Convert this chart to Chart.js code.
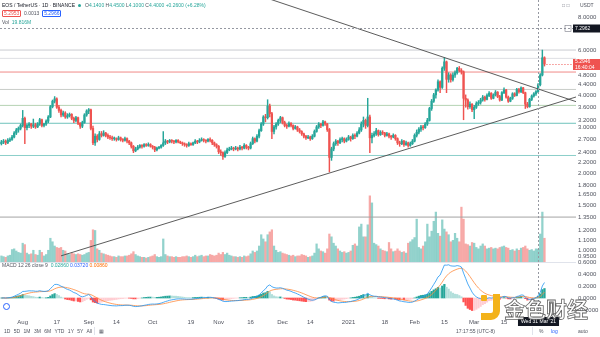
<!DOCTYPE html>
<html>
<head>
<meta charset="utf-8">
<title>EOS / TetherUS · 1D · BINANCE</title>
<script src="https://cdn.jsdelivr.net/npm/chart.js@4.4.0/dist/chart.umd.min.js"></script>
<style>
  html, body { margin: 0; padding: 0; background: #fff; }
  body { position: relative; width: 600px; height: 337px; overflow: hidden;
         font-family: "Liberation Sans", Arial, sans-serif; color: #131722; }
  canvas { position: absolute; left: 0; }
  #priceChart { top: 0; }
  #macdChart { top: 256px; }
  .txt { position: absolute; white-space: nowrap; font-size: 5px; line-height: 6px; }
  .box { display: inline-block; padding: 0 1px; border: 0.6px solid; border-radius: 1px; line-height: 5px; }
  .dot { display: inline-block; width: 3px; height: 3px; border-radius: 50%; background: #26a69a; margin: 0 4px 0 3px; }
  .sep { position: absolute; left: 0; top: 262px; width: 576px; height: 1px; background: #e0e3eb; }
  .tool { color: #50535e; }
  .mark { position: absolute; font-family: "Noto Sans CJK SC", sans-serif; font-weight: 700;
          font-size: 21px; line-height: 24px; color: rgba(255,255,255,0.85);
          -webkit-text-stroke: 0.8px rgba(70,70,70,0.85); letter-spacing: 0px; }
</style>
</head>
<body>
<canvas id="priceChart" width="600" height="263"></canvas>
<canvas id="macdChart" width="600" height="72"></canvas>
<div class="sep"></div>

<div class="txt" style="left:2px;top:2px">EOS / TetherUS · 1D · BINANCE<span class="dot"></span><span id="ohlc"></span></div>
<div class="txt" style="left:2px;top:10px">
  <span class="box" style="color:#ef5350;border-color:#ef5350">5.2953</span>
  <span style="color:#50535e">&nbsp;0.0013&nbsp;</span>
  <span class="box" style="color:#2962ff;border-color:#2962ff">5.2966</span>
</div>
<div class="txt" style="left:2px;top:19px"><span style="color:#50535e">Vol</span>&nbsp;&nbsp;<span id="volText" style="color:#26a69a"></span></div>
<div class="txt" style="left:2px;top:262px"><span style="color:#50535e">MACD 12 26 close 9</span>&nbsp;&nbsp;<span id="macdText"></span></div>

<div class="txt" style="left:562px;top:2px;color:#787b86">&#9633; &#9633;</div>
<div class="txt" style="left:580px;top:2px;color:#50535e">USDT</div>

<div style="position:absolute;left:3px;top:303px;width:7px;height:7px;border-radius:50%;border:1px solid #2962ff;box-sizing:border-box"></div>

<div class="txt tool" style="left:4px;top:328px;word-spacing:2px">1D 5D 1M 3M 6M YTD 1Y 5Y All</div>
<div style="position:absolute;left:94px;top:327px;width:1px;height:8px;background:#e0e3eb"></div>
<div class="txt tool" style="left:99px;top:328px">&#9638;</div>
<div class="txt tool" style="left:456px;top:328px">17:17:55 (UTC-8)</div>
<div style="position:absolute;left:532px;top:327px;width:1px;height:8px;background:#e0e3eb"></div>
<div class="txt tool" style="left:539px;top:328px">%</div>
<div class="txt" style="left:551px;top:328px;color:#2962ff">log</div>
<div class="txt tool" style="left:578px;top:328px">auto</div>

<svg style="position:absolute;left:481px;top:294px" width="20" height="27" viewBox="0 0 20 27">
  <rect x="0" y="1" width="6" height="6" rx="1" fill="#f3b21a"/>
  <path d="M12 0 h7 v17 a9 9 0 0 1 -9 9 h-10 v-7 h10 a2 2 0 0 0 2 -2 z" fill="#f3b21a"/>
</svg>
<div class="mark" style="left:504px;top:296px">金色财经</div>

<script>
// Daily EOS/USDT candles, Jul 22 2020 .. Apr 4 2021. Day numbers count from Aug 1 2020.
const FIRST_DAY = -10;

const opens = [
  2.60,2.64,2.66,2.62,2.68,2.70,2.76,2.86,2.94,2.98,
  3.06,3.26,3.00,3.06,3.10,3.04,3.08,3.02,3.10,3.22,
  3.06,3.10,3.18,3.30,3.62,3.80,3.88,3.60,3.50,3.36,
  3.42,3.30,3.34,3.38,3.26,3.20,3.28,3.12,3.04,3.14,
  3.36,3.48,3.52,2.98,2.62,2.78,2.70,2.84,2.80,2.86,
  2.80,2.76,2.74,2.72,2.72,2.70,2.74,2.70,2.68,2.72,
  2.66,2.62,2.54,2.44,2.48,2.52,2.56,2.54,2.58,2.56,
  2.58,2.54,2.52,2.46,2.50,2.52,2.56,2.62,2.66,2.64,
  2.68,2.66,2.64,2.68,2.64,2.62,2.60,2.58,2.56,2.60,
  2.58,2.62,2.66,2.64,2.68,2.70,2.68,2.66,2.70,2.68,
  2.62,2.58,2.54,2.42,2.40,2.32,2.40,2.46,2.48,2.50,
  2.48,2.50,2.48,2.52,2.50,2.56,2.52,2.50,2.60,2.72,
  2.66,2.78,2.92,3.10,3.30,3.28,3.64,3.40,2.90,3.02,
  3.10,3.20,3.28,3.14,3.06,3.04,3.12,3.06,2.98,3.02,
  2.94,2.90,2.84,2.78,2.74,2.76,2.72,2.78,2.90,3.02,
  3.10,3.06,3.16,3.10,2.95,2.30,2.48,2.60,2.66,2.62,
  2.70,2.72,2.66,2.70,2.76,2.72,2.80,2.78,2.86,2.94,
  3.10,3.20,3.06,3.30,2.74,2.80,2.84,2.92,2.82,2.88,
  2.86,2.80,2.84,2.78,2.76,2.80,2.72,2.62,2.60,2.66,
  2.58,2.62,2.56,2.60,2.66,2.80,2.88,2.96,3.02,3.00,
  3.10,3.20,3.56,3.80,4.02,4.20,4.52,4.30,5.10,5.40,
  4.62,4.80,4.60,4.80,4.90,5.10,5.00,4.94,3.90,3.84,
  3.62,3.70,3.52,3.60,3.72,3.76,3.84,3.94,3.86,4.00,
  4.08,3.90,4.02,4.12,3.96,3.84,4.10,4.20,3.94,3.80,
  3.90,4.06,4.00,4.22,4.14,4.28,4.10,3.70,3.62,3.86,
  3.98,4.06,4.14,4.40,4.80,5.60
];
const highs = [
  2.68,2.70,2.69,2.72,2.74,2.80,2.90,2.98,3.02,3.10,
  3.50,3.30,3.10,3.14,3.12,3.24,3.12,3.14,3.26,3.24,
  3.12,3.22,3.34,3.66,3.84,3.96,3.92,3.66,3.54,3.48,
  3.46,3.40,3.42,3.40,3.30,3.32,3.30,3.14,3.18,3.40,
  3.52,3.56,3.54,3.04,2.84,2.82,2.90,2.90,2.92,2.88,
  2.84,2.80,2.78,2.76,2.74,2.78,2.76,2.72,2.76,2.74,
  2.68,2.64,2.56,2.52,2.56,2.58,2.58,2.60,2.60,2.62,
  2.60,2.56,2.54,2.52,2.54,2.58,2.90,2.70,2.68,2.70,
  2.70,2.68,2.70,2.70,2.66,2.64,2.62,2.60,2.64,2.62,
  2.64,2.70,2.68,2.72,2.74,2.72,2.70,2.72,2.74,2.70,
  2.64,2.60,2.56,2.46,2.42,2.44,2.50,2.52,2.54,2.52,
  2.54,2.52,2.56,2.54,2.60,2.58,2.54,2.64,2.76,2.74,
  2.82,2.96,3.14,3.34,3.38,3.85,3.70,3.44,3.06,3.14,
  3.24,3.32,3.30,3.18,3.10,3.16,3.14,3.08,3.06,3.04,
  2.98,2.92,2.86,2.80,2.80,2.78,2.82,2.94,3.06,3.14,
  3.12,3.20,3.18,3.12,2.98,2.52,2.64,2.70,2.68,2.74,
  2.76,2.74,2.74,2.80,2.78,2.84,2.84,2.90,3.00,3.16,
  3.30,3.24,3.90,3.36,2.86,2.90,2.98,2.94,2.92,2.92,
  2.88,2.88,2.86,2.80,2.84,2.82,2.74,2.66,2.70,2.68,
  2.66,2.64,2.64,2.70,2.84,2.94,3.00,3.06,3.06,3.14,
  3.26,3.60,3.86,4.08,4.24,4.60,4.56,5.16,5.60,5.44,
  4.90,4.86,4.90,4.98,5.14,5.18,5.08,4.98,4.02,3.88,
  3.78,3.72,3.66,3.78,3.82,3.90,4.00,3.98,4.06,4.14,
  4.10,4.06,4.18,4.14,4.00,4.14,4.28,4.22,3.98,3.94,
  4.10,4.10,4.26,4.26,4.32,4.30,4.12,3.76,3.90,4.02,
  4.10,4.18,4.45,4.86,6.00,5.65
];
const lows = [
  2.57,2.60,2.58,2.60,2.65,2.68,2.74,2.82,2.88,2.94,
  3.02,2.60,2.94,3.00,2.98,3.00,2.98,3.00,3.06,3.02,
  3.02,3.06,3.14,3.28,3.58,3.74,3.56,3.44,3.30,3.32,
  3.26,3.26,3.30,3.22,3.14,3.16,3.08,2.98,3.00,3.12,
  3.32,3.40,2.94,2.58,2.56,2.64,2.68,2.76,2.78,2.76,
  2.72,2.70,2.68,2.68,2.66,2.68,2.66,2.64,2.66,2.62,
  2.58,2.50,2.40,2.42,2.46,2.50,2.50,2.52,2.54,2.54,
  2.52,2.48,2.42,2.44,2.48,2.50,2.54,2.58,2.60,2.62,
  2.62,2.60,2.62,2.62,2.60,2.56,2.54,2.52,2.54,2.56,
  2.56,2.60,2.60,2.62,2.66,2.64,2.62,2.64,2.64,2.58,
  2.54,2.50,2.38,2.34,2.26,2.30,2.38,2.44,2.46,2.44,
  2.46,2.44,2.46,2.46,2.48,2.48,2.46,2.48,2.58,2.62,
  2.64,2.74,2.90,3.06,3.16,3.24,3.30,2.72,2.84,2.96,
  3.06,3.14,3.10,3.02,2.98,3.02,3.02,2.94,2.96,2.90,
  2.86,2.80,2.74,2.70,2.72,2.68,2.70,2.76,2.88,2.98,
  3.00,3.04,3.06,2.90,2.02,2.24,2.44,2.56,2.56,2.60,
  2.64,2.62,2.64,2.68,2.66,2.70,2.72,2.76,2.84,2.90,
  3.02,2.98,3.02,2.40,2.62,2.76,2.80,2.78,2.80,2.82,
  2.76,2.78,2.74,2.70,2.74,2.68,2.58,2.54,2.58,2.54,
  2.56,2.52,2.54,2.58,2.64,2.76,2.84,2.90,2.94,2.98,
  3.06,3.18,3.50,3.76,3.90,4.16,4.10,4.26,5.00,4.10,
  4.50,4.50,4.54,4.70,4.84,4.94,4.84,3.22,3.60,3.54,
  3.56,3.46,3.25,3.56,3.66,3.70,3.80,3.80,3.84,3.96,
  3.86,3.88,3.98,3.92,3.80,3.82,4.06,3.90,3.76,3.78,
  3.86,3.96,3.98,4.08,4.10,4.06,3.56,3.58,3.60,3.82,
  3.94,4.00,4.10,4.36,4.76,5.20
];
const closes = [
  2.64,2.66,2.62,2.68,2.70,2.76,2.86,2.94,2.98,3.06,
  3.26,3.00,3.06,3.10,3.04,3.08,3.02,3.10,3.22,3.06,
  3.10,3.18,3.30,3.62,3.80,3.88,3.60,3.50,3.36,3.42,
  3.30,3.34,3.38,3.26,3.20,3.28,3.12,3.04,3.14,3.36,
  3.48,3.52,2.98,2.62,2.78,2.70,2.84,2.80,2.86,2.80,
  2.76,2.74,2.72,2.72,2.70,2.74,2.70,2.68,2.72,2.66,
  2.62,2.54,2.44,2.48,2.52,2.56,2.54,2.58,2.56,2.58,
  2.54,2.52,2.46,2.50,2.52,2.56,2.62,2.66,2.64,2.68,
  2.66,2.64,2.68,2.64,2.62,2.60,2.58,2.56,2.60,2.58,
  2.62,2.66,2.64,2.68,2.70,2.68,2.66,2.70,2.68,2.62,
  2.58,2.54,2.42,2.40,2.32,2.40,2.46,2.48,2.50,2.48,
  2.50,2.48,2.52,2.50,2.56,2.52,2.50,2.60,2.72,2.66,
  2.78,2.92,3.10,3.30,3.28,3.64,3.40,2.90,3.02,3.10,
  3.20,3.28,3.14,3.06,3.04,3.12,3.06,2.98,3.02,2.94,
  2.90,2.84,2.78,2.74,2.76,2.72,2.78,2.90,3.02,3.10,
  3.06,3.16,3.10,2.95,2.30,2.48,2.60,2.66,2.62,2.70,
  2.72,2.66,2.70,2.76,2.72,2.80,2.78,2.86,2.94,3.10,
  3.20,3.06,3.30,2.74,2.80,2.84,2.92,2.82,2.88,2.86,
  2.80,2.84,2.78,2.76,2.80,2.72,2.62,2.60,2.66,2.58,
  2.62,2.56,2.60,2.66,2.80,2.88,2.96,3.02,3.00,3.10,
  3.20,3.56,3.80,4.02,4.20,4.52,4.30,5.10,5.40,4.62,
  4.80,4.60,4.80,4.90,5.10,5.00,4.94,3.90,3.84,3.62,
  3.70,3.52,3.60,3.72,3.76,3.84,3.94,3.86,4.00,4.08,
  3.90,4.02,4.12,3.96,3.84,4.10,4.20,3.94,3.80,3.90,
  4.06,4.00,4.22,4.14,4.28,4.10,3.70,3.62,3.86,3.98,
  4.06,4.14,4.40,4.80,5.60,5.2946
];
// volume in millions of EOS
const volumes = [
  10,9,8,10,11,19,20,17,15,14,
  28,26,14,12,13,18,12,11,18,15,
  10,12,18,35,30,24,22,21,22,18,
  17,13,12,14,13,12,13,12,11,12,
  14,15,32,47,46,20,18,14,13,12,
  11,10,9,9,8,10,9,9,10,10,
  11,13,16,12,10,9,8,8,7,8,
  9,10,12,9,8,9,34,12,10,9,
  9,8,9,8,8,9,9,10,9,8,
  9,11,9,10,11,9,10,10,12,11,
  10,11,14,12,15,12,14,11,10,9,
  9,8,9,8,10,9,10,13,17,15,
  17,24,40,34,30,40,44,47,24,18,
  15,16,14,13,12,11,10,11,9,10,
  10,12,11,10,8,9,10,14,27,20,
  17,16,14,20,41,37,28,24,20,17,
  15,16,14,15,17,25,27,24,51,55,
  37,37,54,95,85,28,26,24,20,18,
  17,16,29,20,16,17,20,17,15,16,
  14,28,30,33,36,62,22,20,24,30,
  55,37,45,59,72,42,38,61,48,44,
  40,30,32,42,35,30,79,62,27,26,
  24,29,28,22,20,24,27,24,20,21,
  22,20,21,20,22,23,24,22,21,18,
  19,17,20,18,21,22,24,20,18,19,
  17,20,19.816,41,72,35
];

// drawn horizontal levels and the two triangle trend lines (day, price)
const levelPrices = [6.0, 5.57, 4.93, 4.22, 3.66, 3.12, 2.34, 1.35];
const fallTrendDays = [114, 260];
const fallTrendPrices = [9.58, 3.78];
const riseTrendDays = [18, 260];
const riseTrendPrices = [0.955, 3.95];

// axis ticks
const priceTicks = [8, 6, 4.8, 4.4, 4, 3.6, 3.2, 3, 2.7, 2.4, 2.2, 2, 1.8, 1.65, 1.5, 1.35, 1.2, 1.1, 1, 0.95];
const macdTicks = [0.6, 0.4, 0.2, 0, -0.2];
const tickDays = [0, 16, 31, 44, 61, 79, 92, 107, 122, 135, 153, 170, 184, 198, 212, 226];
const tickLabels = ['Aug', '17', 'Sep', '14', 'Oct', '19', 'Nov', '16', 'Dec', '14', '2021', '18', 'Feb', '15', 'Mar', '15'];

// crosshair position
const CROSS_DAY = 242;
const CROSS_PRICE = 7.2962;

// visible window
const X_MIN = -10.66, X_MAX = 259.8;
const P_MIN = 0.896, P_MAX = 9.38;

const UP = '#26a69a', DOWN = '#ef5350';
const levelColors = ['#c9cbd0', '#dedfe3', '#f08a87', '#c8cdc8', '#b5d3b3', '#6fc2bb', '#8ccfca', '#a3a3a3'];

Chart.defaults.font.family = '"Liberation Sans", Arial, sans-serif';
Chart.defaults.font.size = 6;
Chart.defaults.color = '#50535e';

const days = closes.map((_, i) => FIRST_DAY + i);
const lastIdx = closes.length - 1;
const crossIdx = CROSS_DAY - FIRST_DAY;
const up = closes.map((c, i) => c >= opens[i]);

// MACD 12 26 9 on closes
function ema(src, n) {
  const k = 2 / (n + 1);
  let prev;
  return src.map((v, i) => (prev = i === 0 ? v : v * k + prev * (1 - k)));
}
const fastEma = ema(closes, 12);
const slowEma = ema(closes, 26);
const macdLine = fastEma.map((v, i) => v - slowEma[i]);
const signalLine = ema(macdLine, 9);
const histogram = macdLine.map((v, i) => v - signalLine[i]);
const histColors = histogram.map((h, i) => {
  const prev = i ? histogram[i - 1] : h;
  if (h >= 0) return h >= prev ? '#26a69a' : '#b2dfdb';
  return h < prev ? '#ff5252' : '#ffcdd2';
});

// legend texts
const f4 = v => v.toFixed(4);
const chg = closes[crossIdx] - closes[crossIdx - 1];
const ohlcColor = up[crossIdx] ? UP : DOWN;
document.getElementById('ohlc').innerHTML =
  `<span style="color:#50535e">O</span><span style="color:${ohlcColor}">${f4(opens[crossIdx])}</span> ` +
  `<span style="color:#50535e">H</span><span style="color:${ohlcColor}">${f4(highs[crossIdx])}</span> ` +
  `<span style="color:#50535e">L</span><span style="color:${ohlcColor}">${f4(lows[crossIdx])}</span> ` +
  `<span style="color:#50535e">C</span><span style="color:${ohlcColor}">${f4(closes[crossIdx])} ` +
  `${chg >= 0 ? '+' : ''}${f4(chg)} (${chg >= 0 ? '+' : ''}${(chg / closes[crossIdx - 1] * 100).toFixed(2)}%)</span>`;
document.getElementById('volText').textContent = volumes[crossIdx].toFixed(3) + 'M';
document.getElementById('macdText').innerHTML =
  `<span style="color:#26a69a">${histogram[crossIdx].toFixed(5)}</span> ` +
  `<span style="color:#2962ff">${macdLine[crossIdx].toFixed(5)}</span> ` +
  `<span style="color:#ff6d00">${signalLine[crossIdx].toFixed(5)}</span>`;

function fixWidth(s) { s.width = 24; s.paddingTop = 0; s.paddingBottom = 0; }

function dashed(ctx, x1, y1, x2, y2, color, dash) {
  ctx.beginPath();
  ctx.setLineDash(dash);
  ctx.strokeStyle = color;
  ctx.lineWidth = 1;
  ctx.moveTo(x1, y1);
  ctx.lineTo(x2, y2);
  ctx.stroke();
  ctx.setLineDash([]);
}

function axisBox(ctx, left, yMid, h, bg, lines) {
  ctx.fillStyle = bg;
  ctx.fillRect(left, yMid - h / 2, 600 - left, h);
  ctx.fillStyle = '#fff';
  ctx.font = '5px "Liberation Sans", Arial, sans-serif';
  ctx.textBaseline = 'middle';
  ctx.textAlign = 'left';
  const step = h / lines.length;
  lines.forEach((t, i) => ctx.fillText(t, left + 2, yMid - h / 2 + step * (i + 0.5)));
}

const priceOverlay = {
  id: 'priceOverlay',
  afterDatasetsDraw(chart) {
    const { ctx, chartArea: a, scales: { x, y } } = chart;
    ctx.save();
    const cx = Math.round(x.getPixelForValue(CROSS_DAY)) + 0.5;
    const cy = Math.round(y.getPixelForValue(CROSS_PRICE)) + 0.5;
    dashed(ctx, cx, a.top, cx, a.bottom, '#9598a1', [2, 2]);
    dashed(ctx, a.left, cy, a.right, cy, '#9598a1', [2, 2]);
    const ly = Math.round(y.getPixelForValue(closes[lastIdx])) + 0.5;
    dashed(ctx, x.getPixelForValue(days[lastIdx]) + 2, ly, a.right, ly, '#ef5350', [1, 2]);
    // last price and crosshair price on the axis
    axisBox(ctx, a.right - 3, ly, 11, '#ef5350', [f4(closes[lastIdx]), '16:40:04']);
    axisBox(ctx, a.right - 3, cy, 8, '#131722', [f4(CROSS_PRICE)]);
    ctx.strokeStyle = '#787b86';
    ctx.lineWidth = 0.6;
    ctx.strokeRect(a.right - 11, cy - 3, 6, 6);
    ctx.restore();
  }
};

const wickData = days.map((d, i) => ({ x: d, y: [lows[i], highs[i]] }));
const bodyData = days.map((d, i) => ({ x: d, y: [opens[i], closes[i]] }));
const volData = days.map((d, i) => ({ x: d, y: volumes[i] }));
const candleColors = up.map(u => (u ? UP : DOWN));
const volColors = up.map(u => (u ? 'rgba(38,166,154,0.5)' : 'rgba(239,83,80,0.5)'));

const levelSets = levelPrices.map((p, k) => ({
  type: 'line', yAxisID: 'y', order: 8,
  data: [{ x: X_MIN, y: p }, { x: X_MAX, y: p }],
  borderColor: levelColors[k], borderWidth: 1, pointRadius: 0
}));
const trendSet = (ds, ps) => ({
  type: 'line', yAxisID: 'y', order: 1,
  data: ds.map((d, i) => ({ x: d, y: ps[i] })),
  borderColor: '#4a4a4a', borderWidth: 0.9, pointRadius: 0
});

new Chart(document.getElementById('priceChart'), {
  type: 'bar',
  data: {
    datasets: [
      { data: volData, yAxisID: 'yVol', backgroundColor: volColors, barThickness: 1.6, grouped: false, order: 10 },
      ...levelSets,
      { data: wickData, yAxisID: 'y', backgroundColor: candleColors, barThickness: 0.8, grouped: false, order: 3 },
      { data: bodyData, yAxisID: 'y', backgroundColor: candleColors, barThickness: 1.6, grouped: false, minBarLength: 0.8, order: 2 },
      trendSet(fallTrendDays, fallTrendPrices),
      trendSet(riseTrendDays, riseTrendPrices)
    ]
  },
  options: {
    responsive: false, animation: false, devicePixelRatio: 1,
    layout: { padding: 0 },
    plugins: { legend: { display: false }, tooltip: { enabled: false } },
    scales: {
      x: { type: 'linear', min: X_MIN, max: X_MAX, offset: false, display: false },
      y: {
        type: 'logarithmic', position: 'right', min: P_MIN, max: P_MAX,
        afterFit: fixWidth,
        afterBuildTicks: s => { s.ticks = priceTicks.map(v => ({ value: v })); },
        ticks: { callback: v => Number(v).toFixed(4), autoSkip: false, padding: 2, color: '#50535e' },
        grid: { display: false, drawTicks: false },
        border: { display: false }
      },
      yVol: { type: 'linear', min: 0, max: 372, display: false }
    }
  },
  plugins: [priceOverlay]
});

const macdOverlay = {
  id: 'macdOverlay',
  afterDatasetsDraw(chart) {
    const { ctx, chartArea: a, scales: { x } } = chart;
    ctx.save();
    const cx = Math.round(x.getPixelForValue(CROSS_DAY)) + 0.5;
    dashed(ctx, cx, 0, cx, a.bottom, '#9598a1', [2, 2]);
    const dt = new Date(Date.UTC(2020, 7, 1 + CROSS_DAY));
    const wd = ['Sun', 'Mon', 'Tue', 'Wed', 'Thu', 'Fri', 'Sat'][dt.getUTCDay()];
    const mo = ['Jan', 'Feb', 'Mar', 'Apr', 'May', 'Jun', 'Jul', 'Aug', 'Sep', 'Oct', 'Nov', 'Dec'][dt.getUTCMonth()];
    const label = `${wd} ${String(dt.getUTCDate()).padStart(2, '0')} ${mo} '${String(dt.getUTCFullYear()).slice(2)}`;
    ctx.font = '5px "Liberation Sans", Arial, sans-serif';
    const w = ctx.measureText(label).width + 6;
    ctx.fillStyle = '#131722';
    ctx.fillRect(cx - w / 2, a.bottom + 1, w, 9);
    ctx.fillStyle = '#fff';
    ctx.textAlign = 'center';
    ctx.textBaseline = 'middle';
    ctx.fillText(label, cx, a.bottom + 5.5);
    ctx.restore();
  }
};

new Chart(document.getElementById('macdChart'), {
  type: 'bar',
  data: {
    datasets: [
      { data: days.map((d, i) => ({ x: d, y: histogram[i] })), backgroundColor: histColors, barThickness: 1.6, grouped: false, order: 3 },
      { type: 'line', data: days.map((d, i) => ({ x: d, y: macdLine[i] })), borderColor: '#2196f3', borderWidth: 0.8, pointRadius: 0, order: 1 },
      { type: 'line', data: days.map((d, i) => ({ x: d, y: signalLine[i] })), borderColor: '#ff8a3d', borderWidth: 0.8, pointRadius: 0, order: 2 }
    ]
  },
  options: {
    responsive: false, animation: false, devicePixelRatio: 1,
    layout: { padding: { top: 6, left: 0, right: 0, bottom: 0 } },
    plugins: { legend: { display: false }, tooltip: { enabled: false } },
    scales: {
      x: {
        type: 'linear', min: X_MIN, max: X_MAX, offset: false,
        afterFit: s => { s.height = 12; s.paddingLeft = 0; s.paddingRight = 0; },
        afterBuildTicks: s => { s.ticks = tickDays.map(v => ({ value: v })); },
        ticks: { callback: (v, i) => tickLabels[i], autoSkip: false, maxRotation: 0, padding: 3, color: '#50535e' },
        grid: { display: false, drawTicks: false },
        border: { display: false }
      },
      y: {
        type: 'linear', position: 'right', min: -0.3, max: 0.6,
        afterFit: fixWidth,
        afterBuildTicks: s => { s.ticks = macdTicks.map(v => ({ value: v })); },
        ticks: { callback: v => Number(v).toFixed(4), autoSkip: false, padding: 2, color: '#50535e' },
        grid: { display: false, drawTicks: false },
        border: { display: false }
      }
    }
  },
  plugins: [macdOverlay]
});
</script>
</body>
</html>
